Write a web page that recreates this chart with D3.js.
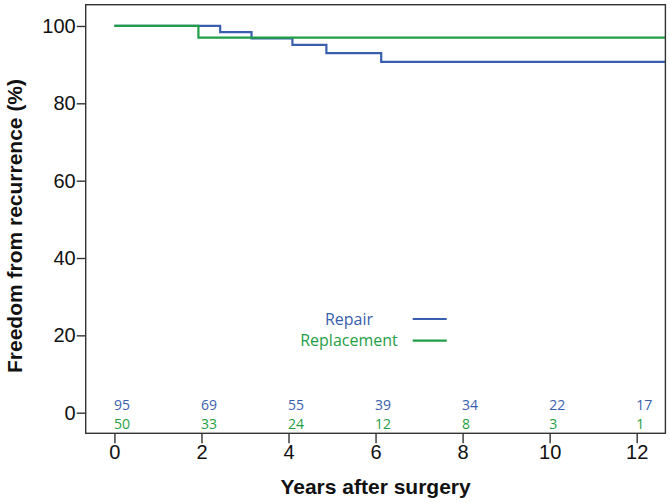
<!DOCTYPE html>
<html><head><meta charset="utf-8">
<script src="https://cdn.jsdelivr.net/npm/d3@7"></script>
<style>body{margin:0;background:#fff}svg{display:block}</style>
</head><body>
<svg id="c" width="670" height="503"></svg>
<script>
// Data
const seriesNames = ["Repair", "Replacement"];
const seriesColors = ["#3a5eae", "#1f9e45"];
const repairTimes  = [0, 2.43, 3.15, 4.09, 4.87, 6.13, 12.7];
const repairValues = [100, 98.4, 96.8, 95.1, 93.0, 90.7, 90.7];
const replTimes    = [0, 1.93, 12.7];
const replValues   = [100, 97.0, 97.0];
const xTicks = [0, 2, 4, 6, 8, 10, 12];
const yTicks = [0, 20, 40, 60, 80, 100];
const riskRepair = [95, 69, 55, 39, 34, 22, 17];
const riskRepl   = [50, 33, 24, 12, 8, 3, 1];

const svg = d3.select("#c");
const L = 85.7, R = 665.4, T = 4.7, B = 433.3;
const x = d3.scaleLinear().domain([-0.66, 12.66]).range([L, R]);
const y = d3.scaleLinear().domain([-5.33, 105.5]).range([B, T]);

svg.append("defs").append("clipPath").attr("id","clip")
  .append("rect").attr("x",L).attr("y",T).attr("width",R-L).attr("height",B-T);

const line = d3.line().x(d=>x(d[0])).y(d=>y(d[1])).curve(d3.curveStepAfter);
const curves = [
  d3.zip(repairTimes, repairValues),
  d3.zip(replTimes, replValues)
];
svg.append("g").attr("clip-path","url(#clip)").selectAll("path")
  .data([0,1]).join("path")
  .attr("d", i=>line(curves[i]))
  .attr("fill","none").attr("stroke", i=>seriesColors[i]).attr("stroke-width",2.2);

// frame
svg.append("rect").attr("x",L).attr("y",T).attr("width",R-L).attr("height",B-T)
  .attr("fill","none").attr("stroke","#333").attr("stroke-width",1.4);

// axes
const xa = svg.append("g").attr("transform",`translate(0,${B})`)
  .call(d3.axisBottom(x).tickValues(xTicks).tickSize(10).tickPadding(2).tickSizeOuter(0));
const ya = svg.append("g").attr("transform",`translate(${L},0)`)
  .call(d3.axisLeft(y).tickValues(yTicks).tickSize(9).tickPadding(1).tickSizeOuter(0));
[xa,ya].forEach(g=>{
  g.select(".domain").remove();
  g.selectAll("line").attr("stroke","#333").attr("stroke-width",1.4);
  g.selectAll("text").attr("font-family","'Liberation Sans', Arial, sans-serif")
    .attr("font-size",20).attr("fill","#111");
});

// number at risk
const riskFont = "'Open Sans', 'Noto Sans', sans-serif";
[riskRepair, riskRepl].forEach((arr, si)=>{
  svg.append("g").selectAll("text").data(arr).join("text")
    .attr("x",(d,i)=>x(xTicks[i])-0.5)
    .attr("y", si===0 ? 409.8 : 429.1)
    .attr("font-family",riskFont).attr("font-size",14)
    .attr("fill",seriesColors[si]).text(d=>d);
});

// legend
seriesNames.forEach((n,i)=>{
  const yy = 319 + i*21.7;
  svg.append("text").attr("x",349).attr("y",yy+5.5).attr("text-anchor","middle")
    .attr("font-family",riskFont).attr("font-size",16).attr("fill",seriesColors[i]).text(n);
  svg.append("line").attr("x1",412.7).attr("x2",446.7).attr("y1",yy).attr("y2",yy)
    .attr("stroke",seriesColors[i]).attr("stroke-width",2.2);
});

// titles
svg.append("text").attr("x",(L+R)/2).attr("y",494.3).attr("text-anchor","middle")
  .attr("font-family","'Liberation Sans', Arial, sans-serif").attr("font-weight","bold")
  .attr("font-size",21).attr("fill","#111").text("Years after surgery");
svg.append("text").attr("transform",`translate(22,226) rotate(-90)`).attr("text-anchor","middle")
  .attr("font-family","'Liberation Sans', Arial, sans-serif").attr("font-weight","bold")
  .attr("font-size",21).attr("fill","#111").text("Freedom from recurrence (%)");
</script>
</body></html>
